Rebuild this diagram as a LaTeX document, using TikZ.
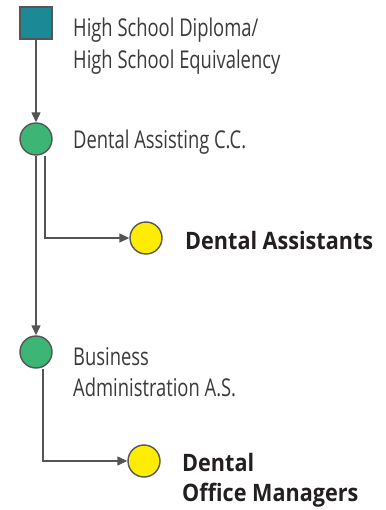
\documentclass[tikz,border=0pt]{standalone}
\usepackage{fontspec}
\setmainfont[FakeStretch=0.75]{Open Sans}
\newfontfamily\bfam[FakeStretch=0.9]{Open Sans}
\usetikzlibrary{arrows.meta}
\definecolor{teal1}{HTML}{1B8A96}
\definecolor{green1}{HTML}{3DB574}
\definecolor{yellow1}{HTML}{FFED00}
\definecolor{edge1}{HTML}{555555}
\definecolor{txt}{HTML}{3A3A3A}
\definecolor{txtb}{HTML}{231F20}
\tikzset{
  x=1pt,y=1pt,
  sq/.style={draw=edge1,line width=1.4pt,fill=teal1,minimum size=32pt,inner sep=0pt},
  gcirc/.style={circle,draw=edge1,line width=1.4pt,fill=green1,minimum size=32pt,inner sep=0pt},
  ycirc/.style={circle,draw=edge1,line width=1.4pt,fill=yellow1,minimum size=32pt,inner sep=0pt},
  lbl/.style={anchor=west,inner sep=0pt,align=left,text=txt,font=\fontsize{24.5}{31.5}\selectfont},
  blbl/.style={anchor=west,inner sep=0pt,align=left,text=txtb,font=\fontsize{24}{30}\selectfont\bfam\bfseries},
  conn/.style={draw=edge1,line width=1.4pt,-{Triangle[length=10pt,width=9pt]}}
}
\begin{document}
\begin{tikzpicture}
\useasboundingbox (0,0) rectangle (385,-510);
\node[sq] (hs) at (36,-23) {};
\node[gcirc] (da) at (36,-139) {};
\node[ycirc] (das) at (146,-238) {};
\node[gcirc] (ba) at (36,-352) {};
\node[ycirc] (dom) at (144,-461) {};
\node[lbl] (t1) at (73,-46) {High School Diploma/\\High School Equivalency};
\node[lbl] (t2) at (73,-142) {Dental Assisting C.C.};
\node[blbl] (t3) at (185,-240) {Dental Assistants};
\node[lbl] (t4) at (73,-372) {Business\\Administration A.S.};
\node[blbl] (t5) at (182,-480) {Dental\\Office Managers};
\coordinate (c1) at (45,-238);
\coordinate (c2) at (43,-461);
\draw[conn] (hs) -- (da);
\draw[conn] (da.south) -- (ba);
\draw[conn] (da.south -| c1) -- (c1) -- (das);
\draw[conn] (ba.south -| c2) -- (c2) -- (dom);
\end{tikzpicture}
\end{document}
